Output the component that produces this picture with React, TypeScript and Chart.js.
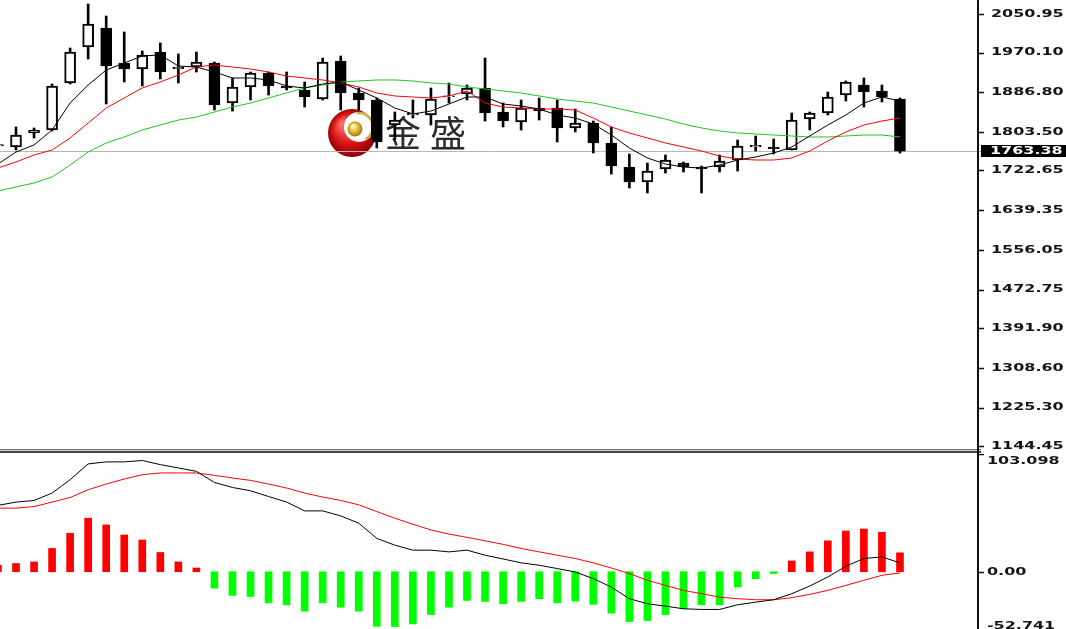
import React, { useEffect, useRef } from "react";
import { Chart, registerables } from "chart.js";

Chart.register(...registerables);

// ---------- DATA ----------
const firstBar = -1; // index of the first (partly hidden) bar

const opens = [
  1774.0, 1771.9, 1801.3, 1807.6, 1906.2, 1981.7, 2021.6, 1948.1, 1935.5, 1971.2,
  1935.5, 1939.7, 1948.1, 1864.2, 1897.8, 1927.1, 1899.9, 1891.5, 1872.6, 1952.3,
  1885.2, 1870.5, 1818.0, 1839.0, 1839.0, 1876.8, 1883.1, 1895.7, 1845.3, 1824.3,
  1853.7, 1853.7, 1811.8, 1822.2, 1780.3, 1729.9, 1698.5, 1725.7, 1738.3, 1729.9,
  1729.9, 1744.6, 1772.0, 1771.9, 1765.6, 1830.6, 1843.2, 1881.0, 1902.0, 1889.4,
  1872.6,
];
const highs = [
  1778.2, 1813.9, 1811.8, 1904.1, 1979.6, 2071.9, 2046.7, 2013.2, 1973.3, 1990.1,
  1967.0, 1971.2, 1950.2, 1916.7, 1929.2, 1929.2, 1929.2, 1908.3, 1958.6, 1962.8,
  1895.7, 1874.7, 1845.3, 1870.5, 1895.7, 1906.2, 1902.0, 1958.6, 1864.2, 1870.5,
  1874.7, 1870.5, 1851.6, 1826.4, 1813.9, 1757.2, 1738.3, 1755.1, 1740.4, 1732.0,
  1755.1, 1786.6, 1795.0, 1788.7, 1843.2, 1845.3, 1887.3, 1910.4, 1916.7, 1902.0,
  1874.7,
];
const lows = [
  1771.9, 1765.6, 1790.8, 1805.5, 1904.1, 1956.5, 1862.1, 1908.3, 1899.9, 1914.6,
  1906.2, 1929.2, 1849.5, 1847.4, 1870.5, 1881.0, 1891.5, 1855.8, 1870.5, 1849.5,
  1849.5, 1769.8, 1786.6, 1832.7, 1818.0, 1864.2, 1870.5, 1826.4, 1813.9, 1807.6,
  1828.5, 1782.4, 1803.4, 1759.3, 1715.2, 1685.9, 1675.4, 1717.3, 1719.4, 1675.4,
  1719.4, 1721.5, 1763.5, 1757.2, 1765.6, 1807.6, 1839.0, 1868.4, 1855.8, 1866.3,
  1759.3,
];
const closes = [
  1777.0, 1797.1, 1807.6, 1899.9, 1971.2, 2030.0, 1941.8, 1935.5, 1964.9, 1929.2,
  1939.7, 1950.2, 1860.0, 1897.8, 1927.1, 1899.9, 1895.7, 1876.8, 1950.2, 1885.2,
  1870.5, 1782.4, 1828.5, 1843.0, 1872.6, 1879.5, 1895.7, 1843.2, 1826.4, 1853.7,
  1847.4, 1811.8, 1822.2, 1780.3, 1732.0, 1698.5, 1721.5, 1744.6, 1729.9, 1725.7,
  1742.5, 1774.0, 1775.5, 1767.7, 1828.5, 1843.2, 1876.8, 1908.3, 1887.3, 1876.8,
  1763.38,
];

const maFast = [
  1736.2, 1761.4, 1776.1, 1807.6, 1864.2, 1902.0, 1933.4, 1948.1, 1962.8, 1964.9,
  1941.8, 1939.7, 1929.2, 1916.7, 1916.7, 1912.5, 1899.9, 1895.7, 1904.1, 1908.3,
  1891.5, 1874.7, 1853.7, 1841.1, 1847.4, 1862.1, 1876.8, 1876.8, 1862.1, 1857.9,
  1851.6, 1839.0, 1832.7, 1820.1, 1797.1, 1769.8, 1748.8, 1736.2, 1729.9, 1727.8,
  1734.1, 1744.6, 1750.9, 1759.3, 1771.9, 1795.0, 1818.0, 1839.0, 1864.2, 1876.8,
  1868.4,
];
const maMid = [
  1727.8, 1740.4, 1755.1, 1765.6, 1790.8, 1822.2, 1853.7, 1874.7, 1895.7, 1908.3,
  1922.9, 1939.7, 1943.9, 1939.7, 1935.5, 1929.2, 1920.8, 1916.7, 1912.5, 1906.2,
  1897.8, 1885.2, 1878.9, 1876.8, 1874.7, 1878.9, 1889.4, 1864.2, 1855.8, 1853.7,
  1851.6, 1851.6, 1849.5, 1832.7, 1813.9, 1801.3, 1790.8, 1780.3, 1771.9, 1763.5,
  1753.0, 1746.7, 1744.6, 1744.6, 1748.8, 1763.5, 1784.5, 1803.4, 1818.0, 1826.4,
  1832.7,
];
const maSlow = [
  1679.6, 1688.0, 1696.4, 1708.9, 1734.1, 1761.4, 1780.3, 1792.9, 1807.6, 1818.0,
  1828.5, 1834.8, 1845.3, 1855.8, 1864.2, 1874.7, 1885.2, 1895.7, 1902.0, 1908.3,
  1910.4, 1912.5, 1912.5, 1910.4, 1906.2, 1904.1, 1897.8, 1893.6, 1889.4, 1885.2,
  1878.9, 1872.6, 1868.4, 1864.2, 1855.8, 1847.4, 1839.0, 1830.6, 1820.1, 1811.8,
  1805.5, 1801.3, 1799.2, 1797.1, 1795.0, 1792.9, 1792.9, 1795.0, 1797.1, 1797.1,
  1792.9,
];

const macdDif = [
  58.1, 61.0, 62.4, 68.9, 80.6, 94.4, 96.2, 96.2, 97.4, 93.8,
  90.9, 87.9, 78.2, 73.8, 70.9, 65.9, 61.0, 53.3, 53.3, 48.9,
  42.5, 29.2, 23.3, 18.9, 18.9, 17.4, 18.9, 14.5, 11.2, 7.8,
  5.7, 2.8, -0.2, -6.0, -13.4, -23.6, -28.0, -30.1, -32.4, -33.0,
  -33.0, -28.9, -26.6, -24.5, -19.2, -12.5, -4.6, 4.8, 11.6, 13.0,
  7.8,
];
const macdDea = [
  55.7, 55.7, 57.1, 61.0, 65.0, 71.8, 76.8, 81.2, 85.0, 86.5,
  86.5, 86.5, 84.4, 82.1, 80.0, 76.8, 73.3, 68.9, 65.4, 62.4,
  58.6, 52.7, 46.9, 41.6, 36.6, 33.0, 30.1, 27.1, 24.0, 20.4,
  17.4, 14.5, 11.6, 7.8, 3.3, -1.6, -7.5, -11.9, -16.3, -19.2,
  -22.2, -23.6, -24.5, -24.5, -22.7, -19.8, -16.3, -11.9, -7.5, -3.1,
  -1.1,
];
const macdHist = [
  5.7, 7.2, 8.6, 20.4, 33.7, 46.9, 41.0, 32.2, 27.8, 16.9,
  8.6, 3.3, -14.3, -20.7, -21.6, -27.2, -28.9, -34.5, -27.2, -31.0,
  -34.5, -47.8, -48.0, -45.7, -37.5, -31.0, -25.1, -26.0, -28.0, -26.0,
  -23.6, -27.2, -25.7, -28.6, -36.3, -43.6, -42.7, -37.5, -32.4, -28.9,
  -28.9, -13.4, -6.0, -1.6, 9.5, 17.4, 27.1, 35.7, 37.4, 34.5,
  16.6,
];

const priceTicks = [
  2050.95, 1970.1, 1886.8, 1803.5, 1722.65, 1639.35, 1556.05, 1472.75,
  1391.9, 1308.6, 1225.3, 1144.45,
];
const macdTicks = [103.098, 0, -52.741];
const macdTickLabels = ["103.098", "0.00", "-52.741"];
const lastPrice = 1763.38;
const watermark = ["金", "盛"];

// ---------- helpers ----------
const barIndex = opens.map((_, k) => k + firstBar);
const LABEL_FONT = "bold 11px 'DejaVu Sans'";
const STRETCH = 1.45;

function stretchText(ctx: CanvasRenderingContext2D, text: string, x: number, y: number, color: string) {
  ctx.save();
  ctx.font = LABEL_FONT;
  ctx.fillStyle = color;
  ctx.textAlign = "left";
  ctx.textBaseline = "middle";
  ctx.translate(x, y);
  ctx.scale(STRETCH, 1);
  ctx.fillText(text, 0, 0);
  ctx.restore();
}

function tickMark(ctx: CanvasRenderingContext2D, x: number, y: number) {
  ctx.save();
  ctx.strokeStyle = "#111";
  ctx.lineWidth = 1.5;
  ctx.beginPath();
  ctx.moveTo(x, Math.round(y) + 0.5);
  ctx.lineTo(x + 5, Math.round(y) + 0.5);
  ctx.stroke();
  ctx.restore();
}

function drawLogo(ctx: CanvasRenderingContext2D) {
  ctx.save();
  const g = ctx.createRadialGradient(343, 124, 3, 352, 133, 25);
  g.addColorStop(0, "#ff6a6a");
  g.addColorStop(0.55, "#d81414");
  g.addColorStop(1, "#8a0000");
  ctx.fillStyle = g;
  ctx.beginPath();
  ctx.arc(352, 133, 24, 0, Math.PI * 2);
  ctx.fill();
  ctx.fillStyle = "#fff";
  ctx.beginPath();
  ctx.arc(359, 127, 15, 0, Math.PI * 2);
  ctx.fill();
  ctx.strokeStyle = "#d6a936";
  ctx.lineWidth = 2.5;
  ctx.beginPath();
  ctx.arc(359, 127, 14, -Math.PI * 0.55, Math.PI * 0.35);
  ctx.stroke();
  const g2 = ctx.createRadialGradient(353, 126, 1, 355, 129, 8);
  g2.addColorStop(0, "#fff6c0");
  g2.addColorStop(0.5, "#e2b92e");
  g2.addColorStop(1, "#9a740e");
  ctx.fillStyle = g2;
  ctx.beginPath();
  ctx.arc(355, 129, 7.5, 0, Math.PI * 2);
  ctx.fill();
  ctx.fillStyle = "#2b2b2b";
  ctx.font = "36px 'Noto Sans CJK SC'";
  ctx.textAlign = "center";
  ctx.textBaseline = "middle";
  ctx.fillText(watermark[0], 403, 133);
  ctx.fillText(watermark[1], 448, 133);
  ctx.restore();
}

const mainOverlay = {
  id: "mainOverlay",
  beforeDatasetsDraw(chart: any) {
    const ctx = chart.ctx as CanvasRenderingContext2D;
    const y = chart.scales.y;
    drawLogo(ctx);
    const py = Math.round(y.getPixelForValue(lastPrice)) + 0.5;
    ctx.save();
    ctx.strokeStyle = "#b8b8b8";
    ctx.lineWidth = 1;
    ctx.beginPath();
    ctx.moveTo(0, py);
    ctx.lineTo(chart.chartArea.right + 4, py);
    ctx.stroke();
    ctx.restore();
  },
  afterDraw(chart: any) {
    const ctx = chart.ctx as CanvasRenderingContext2D;
    const y = chart.scales.y;
    const right = chart.chartArea.right;
    priceTicks.forEach((v) => {
      const py = y.getPixelForValue(v);
      tickMark(ctx, right + 2, py);
      stretchText(ctx, v.toFixed(2), right + 14, py, "#141414");
    });
    const py = y.getPixelForValue(lastPrice);
    ctx.save();
    ctx.fillStyle = "#000";
    ctx.fillRect(right + 4, Math.round(py) - 6, 1066 - right - 4, 12);
    ctx.restore();
    stretchText(ctx, lastPrice.toFixed(2), right + 13, py, "#ffffff");
  },
};

const subOverlay = {
  id: "subOverlay",
  afterDraw(chart: any) {
    const ctx = chart.ctx as CanvasRenderingContext2D;
    const y = chart.scales.y;
    const right = chart.chartArea.right;
    macdTicks.forEach((v, k) => {
      let py = y.getPixelForValue(v);
      if (k === 0) {
        tickMark(ctx, right + 2, py);
        py += 7;
      } else if (k === macdTicks.length - 1) {
        py -= 6;
      } else {
        tickMark(ctx, right + 2, py);
      }
      stretchText(ctx, macdTickLabels[k], right + 10, py, "#141414");
    });
  },
};

const xRange = { min: -0.887, max: 53.27 };

export default function App() {
  const mainRef = useRef<HTMLCanvasElement | null>(null);
  const subRef = useRef<HTMLCanvasElement | null>(null);

  useEffect(() => {
    if (!mainRef.current || !subRef.current) return;
    const pts = (arr: number[]) => barIndex.map((x, k) => ({ x, y: arr[k] }));

    const main = new Chart(mainRef.current, {
      type: "bar",
      data: {
        datasets: [
          { type: "line", label: "MA fast", data: pts(maFast), borderColor: "#000000", borderWidth: 1, pointRadius: 0, tension: 0, order: 1 } as any,
          { type: "line", label: "MA mid", data: pts(maMid), borderColor: "#ff0000", borderWidth: 1, pointRadius: 0, tension: 0, order: 1 } as any,
          { type: "line", label: "MA slow", data: pts(maSlow), borderColor: "#22c422", borderWidth: 1, pointRadius: 0, tension: 0, order: 1 } as any,
          {
            type: "bar",
            label: "wick",
            data: barIndex.map((x, k) => ({ x, y: [lows[k], highs[k]] })),
            backgroundColor: "#000000",
            barThickness: 2,
            grouped: false,
            order: 3,
          } as any,
          {
            type: "bar",
            label: "body",
            data: barIndex.map((x, k) => ({ x, y: [opens[k], closes[k]] })),
            backgroundColor: (c: any) => (closes[c.dataIndex] >= opens[c.dataIndex] ? "#ffffff" : "#000000"),
            borderColor: "#000000",
            borderWidth: 2,
            borderSkipped: false,
            barThickness: 11,
            grouped: false,
            order: 2,
          } as any,
        ],
      },
      options: {
        animation: false,
        responsive: false,
        maintainAspectRatio: false,
        events: [],
        layout: { padding: { left: 0, right: 0, top: 0, bottom: 5 } },
        plugins: { legend: { display: false }, tooltip: { enabled: false }, title: { display: false } },
        scales: {
          x: { type: "linear", min: xRange.min, max: xRange.max, display: false, offset: false, grid: { display: false } },
          y: {
            type: "linear",
            position: "right",
            min: 1140.4,
            max: 2080.3,
            beginAtZero: false,
            grid: { display: false },
            border: { display: false },
            ticks: { display: false },
            afterFit: (s: any) => {
              s.width = 89;
            },
          },
        },
      } as any,
      plugins: [mainOverlay],
    });

    const sub = new Chart(subRef.current, {
      type: "bar",
      data: {
        datasets: [
          { type: "line", label: "DIF", data: pts(macdDif), borderColor: "#000000", borderWidth: 1, pointRadius: 0, tension: 0, order: 1 } as any,
          { type: "line", label: "DEA", data: pts(macdDea), borderColor: "#ff0000", borderWidth: 1, pointRadius: 0, tension: 0, order: 1 } as any,
          {
            type: "bar",
            label: "MACD",
            data: pts(macdHist),
            backgroundColor: (c: any) => (macdHist[c.dataIndex] >= 0 ? "#ff0000" : "#00ff00"),
            barThickness: 7,
            grouped: false,
            order: 2,
          } as any,
        ],
      },
      options: {
        animation: false,
        responsive: false,
        maintainAspectRatio: false,
        events: [],
        layout: { padding: 0 },
        plugins: { legend: { display: false }, tooltip: { enabled: false }, title: { display: false } },
        scales: {
          x: { type: "linear", min: xRange.min, max: xRange.max, display: false, offset: false, grid: { display: false } },
          y: {
            type: "linear",
            position: "right",
            min: macdTicks[2],
            max: macdTicks[0],
            beginAtZero: false,
            grid: { display: false },
            border: { display: false },
            ticks: { display: false },
            afterFit: (s: any) => {
              s.width = 89;
            },
          },
        },
      } as any,
      plugins: [subOverlay],
    });

    return () => {
      main.destroy();
      sub.destroy();
    };
  }, []);

  return (
    <div
      style={{
        position: "absolute",
        left: 0,
        top: 0,
        width: 1066,
        height: 629,
        overflow: "hidden",
        background: "#ffffff",
      }}
    >
      <canvas ref={mainRef} width={1066} height={453} style={{ position: "absolute", left: 0, top: 0 }} />
      <canvas ref={subRef} width={1066} height={178} style={{ position: "absolute", left: 0, top: 454 }} />
      <div
        style={{
          position: "absolute",
          left: 0,
          top: 449,
          width: 981,
          height: 4,
          boxSizing: "border-box",
          borderTop: "1px solid #666",
          borderBottom: "2px solid #444",
          background: "#d8d8d8",
        }}
      />
      <div style={{ position: "absolute", left: 977, top: 0, width: 2, height: 629, background: "#111" }} />
    </div>
  );
}
